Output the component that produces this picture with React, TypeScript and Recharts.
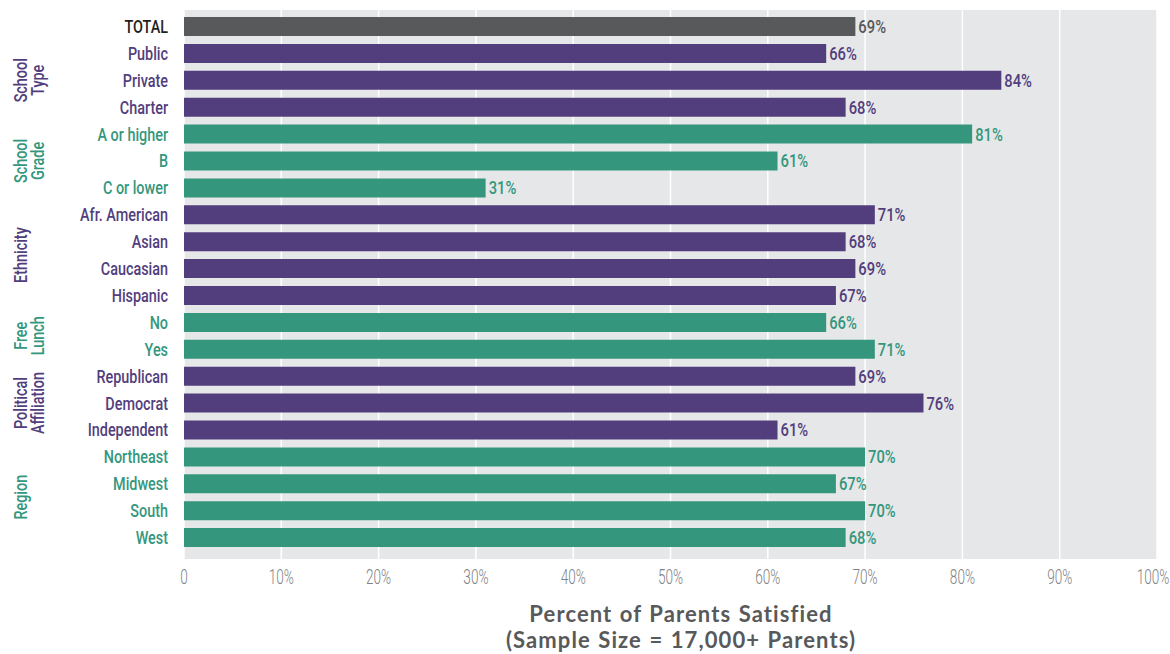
import React from 'react';
import { BarChart, Bar, XAxis, YAxis, CartesianGrid, Cell, LabelList } from 'recharts';

const categories = [
  'TOTAL', 'Public', 'Private', 'Charter', 'A or higher', 'B', 'C or lower',
  'Afr. American', 'Asian', 'Caucasian', 'Hispanic', 'No', 'Yes',
  'Republican', 'Democrat', 'Independent', 'Northeast', 'Midwest', 'South', 'West',
];
const values = [69, 66, 84, 68, 81, 61, 31, 71, 68, 69, 67, 66, 71, 69, 76, 61, 70, 67, 70, 68];
const groupIndex = [0, 1, 1, 1, 2, 2, 2, 1, 1, 1, 1, 2, 2, 1, 1, 1, 2, 2, 2, 2]; // 0 total, 1 purple, 2 green
const groupLines = [['School', 'Type'], ['School', 'Grade'], ['Ethnicity'], ['Free', 'Lunch'], ['Political', 'Affiliation'], ['Region']];
const groupStart = [1, 4, 7, 11, 13, 16];
const groupSize = [3, 3, 4, 2, 3, 4];
const groupColor = [1, 2, 1, 2, 1, 2];
const xTicks = [0, 10, 20, 30, 40, 50, 60, 70, 80, 90, 100];

const BAR_COLORS = ['#58595b', '#523e7d', '#34977d'];
const LABEL_COLORS = ['#231f20', '#523e7d', '#34977d'];
const VALUE_COLORS = ['#58595b', '#523e7d', '#34977d'];

const data = categories.map((c, i) => ({ name: c, value: values[i] }));

const W = 1170;
const H = 654;
const PLOT_TOP = 10;
const PLOT_BOTTOM = 559;
const PAD_TOP = 3;
const PAD_BOTTOM = 8;
const BAND = (PLOT_BOTTOM - PLOT_TOP - PAD_TOP - PAD_BOTTOM) / categories.length;
const FONT = "Roboto, 'Noto Sans', sans-serif";

const SText = ({ x, y, sx, rot = 0, anchor, dy, size, weight, fill, children }: any) => (
  <g transform={`translate(${x},${y}) rotate(${rot}) scale(${sx},1)`}>
    <text x={0} y={0} dy={dy} textAnchor={anchor} fontFamily={FONT} fontSize={size} fontWeight={weight} fill={fill}>
      {children}
    </text>
  </g>
);

const YTick = (props: any) => {
  const { y, payload } = props;
  const i = payload.index;
  const g = groupStart.indexOf(i);
  return (
    <g>
      <SText x={168} y={y} sx={0.8} anchor="end" dy="0.36em" size={18} weight={500} fill={LABEL_COLORS[groupIndex[i]]}>
        {payload.value}
      </SText>
      {g >= 0 &&
        groupLines[g].map((ln, k) => (
          <SText
            key={k}
            x={27 + k * 17}
            y={y + ((groupSize[g] - 1) / 2) * BAND}
            rot={-90}
            sx={0.8}
            anchor="middle"
            dy={0}
            size={18}
            weight={500}
            fill={BAR_COLORS[groupColor[g]]}
          >
            {ln}
          </SText>
        ))}
    </g>
  );
};

const XTick = (props: any) => {
  const { x, y, payload } = props;
  const v = payload.value;
  return (
    <SText x={v === 100 ? x - 4 : x} y={y} sx={0.68} anchor="middle" dy="0.71em" size={20} weight={300} fill="#808285">
      {v === 0 ? '0' : `${v}%`}
    </SText>
  );
};

const ValueLabel = (props: any) => {
  const { x, y, width, height, value, index } = props;
  return (
    <SText x={x + width + 3} y={y + height / 2} sx={0.82} anchor="start" dy="0.36em" size={18} weight={500} fill={VALUE_COLORS[groupIndex[index]]}>
      {`${value}%`}
    </SText>
  );
};

export default function App() {
  return (
    <div style={{ position: 'absolute', left: 0, top: 0, width: W, height: H, background: '#fff', overflow: 'hidden' }}>
      <BarChart
        width={W}
        height={H}
        data={data}
        layout="vertical"
        margin={{ top: PLOT_TOP, right: 13, bottom: 55, left: 0 }}
      >
        <CartesianGrid horizontal={false} vertical stroke="#ffffff" strokeWidth={1.5} fill="#e6e7e8" fillOpacity={1} />
        <XAxis
          type="number"
          domain={[0, 100]}
          ticks={xTicks}
          interval={0}
          axisLine={false}
          tickLine={false}
          tickSize={0}
          tickMargin={11}
          height={40}
          tick={<XTick />}
        />
        <YAxis
          type="category"
          dataKey="name"
          width={184}
          axisLine={false}
          tickLine={false}
          interval={0}
          padding={{ top: PAD_TOP, bottom: PAD_BOTTOM }}
          tick={<YTick />}
        />
        <Bar dataKey="value" barSize={19} isAnimationActive={false}>
          {data.map((d, i) => (
            <Cell key={d.name} fill={BAR_COLORS[groupIndex[i]]} />
          ))}
          <LabelList dataKey="value" content={<ValueLabel />} />
        </Bar>
      </BarChart>
      <div
        style={{
          position: 'absolute',
          left: 381,
          top: 601,
          width: 600,
          textAlign: 'center',
          fontFamily: "Lato, 'Open Sans', sans-serif",
          fontWeight: 700,
          fontSize: 22,
          letterSpacing: 1.1,
          wordSpacing: 1,
          lineHeight: '26.4px',
          color: '#58595b',
        }}
      >
        <div>Percent of Parents Satisfied</div>
        <div>(Sample Size = 17,000+ Parents)</div>
      </div>
    </div>
  );
}
